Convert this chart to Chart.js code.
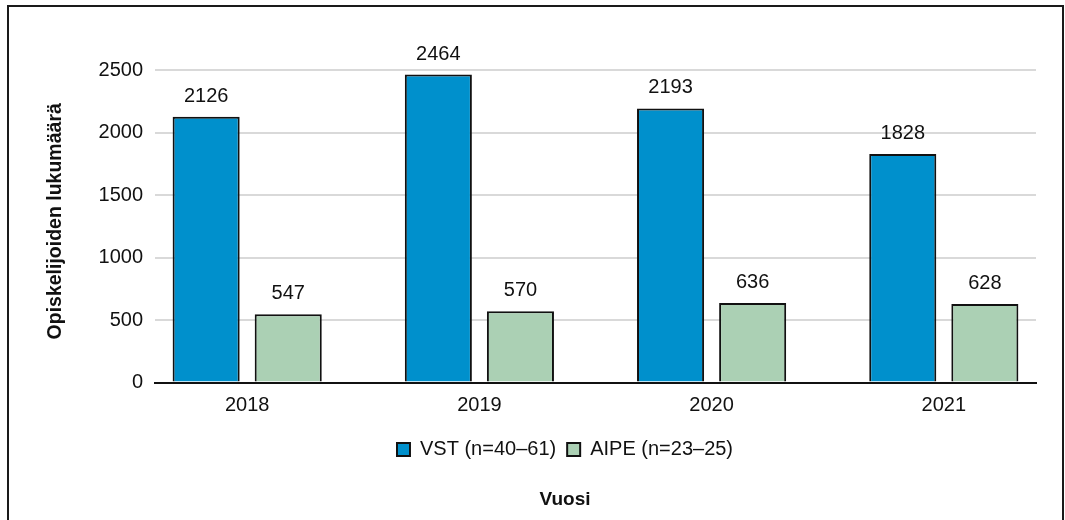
<!DOCTYPE html>
<html>
<head>
<meta charset="utf-8">
<script src="https://cdn.jsdelivr.net/npm/chart.js@4.4.1/dist/chart.umd.min.js"></script>
<style>
    body { margin: 0; background: #fff; }
    #wrap { position: relative; width: 1065px; height: 520px; overflow: hidden; }
    #frame {
        position: absolute; left: 7px; top: 5px; width: 1057px; height: 540px;
        box-sizing: border-box; border: 2px solid #1a1a1a; pointer-events: none;
    }
</style>
</head>
<body>
<div id="wrap">
    <canvas id="studentsChart" width="1065" height="520"></canvas>
    <div id="frame"></div>
</div>
<script>
const years = ['2018', '2019', '2020', '2021'];
const vstValues = [2126, 2464, 2193, 1828];
const aipeValues = [547, 570, 636, 628];
const seriesLabels = ['VST (n=40–61)', 'AIPE (n=23–25)'];
const yMax = 2500;
const yStep = 500;

const fontFamily = '"Liberation Sans", Arial, sans-serif';

// values on top of the bars
const barValueLabels = {
    id: 'barValueLabels',
    afterDatasetsDraw(chart) {
        const ctx = chart.ctx;
        ctx.save();
        ctx.font = '20px ' + fontFamily;
        ctx.fillStyle = '#111';
        ctx.textAlign = 'center';
        ctx.textBaseline = 'alphabetic';
        chart.data.datasets.forEach((ds, i) => {
            chart.getDatasetMeta(i).data.forEach((bar, j) => {
                ctx.fillText(String(ds.data[j].y), bar.x, bar.y - 15);
            });
        });
        ctx.restore();
    }
};

// y axis title sits further left than the tick area
const yTitle = {
    id: 'yTitle',
    afterDraw(chart) {
        const ctx = chart.ctx;
        const area = chart.chartArea;
        ctx.save();
        ctx.translate(area.left - 99, (area.top + area.bottom) / 2 - 5);
        ctx.rotate(-Math.PI / 2);
        ctx.font = 'bold 19.5px ' + fontFamily;
        ctx.fillStyle = '#111';
        ctx.textAlign = 'center';
        ctx.textBaseline = 'middle';
        ctx.fillText('Opiskelijoiden lukumäärä', 0, 0);
        ctx.restore();
    }
};

var ctx = document.getElementById('studentsChart').getContext('2d');
new Chart(ctx, {
    type: 'bar',
    data: {
        datasets: [{
            label: seriesLabels[0],
            data: vstValues.map((v, i) => ({ x: i, y: v })),
            backgroundColor: '#0090cc',
            borderColor: '#111',
            borderWidth: 2,
            categoryPercentage: 0.707,
            barPercentage: 0.817
        }, {
            label: seriesLabels[1],
            data: aipeValues.map((v, i) => ({ x: i, y: v })),
            backgroundColor: '#abd0b4',
            borderColor: '#111',
            borderWidth: 2,
            categoryPercentage: 0.707,
            barPercentage: 0.817
        }]
    },
    options: {
        responsive: false,
        animation: false,
        layout: {
            padding: { left: 94, right: 29, top: 70, bottom: 8.6 }
        },
        scales: {
            x: {
                type: 'linear',
                min: -0.397,
                max: 3.397,
                offset: false,
                afterBuildTicks: (scale) => {
                    scale.ticks = years.map((y, i) => ({ value: i }));
                },
                grid: { display: false, drawTicks: false },
                border: { display: true, color: '#111', width: 2 },
                ticks: {
                    autoSkip: false,
                    maxRotation: 0,
                    padding: 11,
                    color: '#111',
                    font: { family: fontFamily, size: 20 },
                    callback: (v) => years[v]
                }
            },
            y: {
                min: 0,
                max: yMax,
                afterFit: (scale) => { scale.width = 61; },
                grid: {
                    drawTicks: false,
                    lineWidth: 2,
                    color: (c) => c.tick && c.tick.value === 0 ? 'rgba(0,0,0,0)' : '#d9d9d9'
                },
                border: { display: false },
                ticks: {
                    stepSize: yStep,
                    padding: 12,
                    color: '#111',
                    font: { family: fontFamily, size: 20 },
                    callback: (v) => String(v)
                }
            }
        },
        plugins: {
            legend: {
                position: 'bottom',
                labels: {
                    boxWidth: 13,
                    boxHeight: 13,
                    padding: 11,
                    color: '#111',
                    font: { family: fontFamily, size: 20 }
                }
            },
            title: {
                display: true,
                position: 'bottom',
                text: 'Vuosi',
                color: '#111',
                padding: { top: 19, bottom: 0 },
                font: { family: fontFamily, size: 19, weight: 'bold' }
            },
            tooltip: { enabled: false }
        }
    },
    plugins: [barValueLabels, yTitle]
});
</script>
</body>
</html>
